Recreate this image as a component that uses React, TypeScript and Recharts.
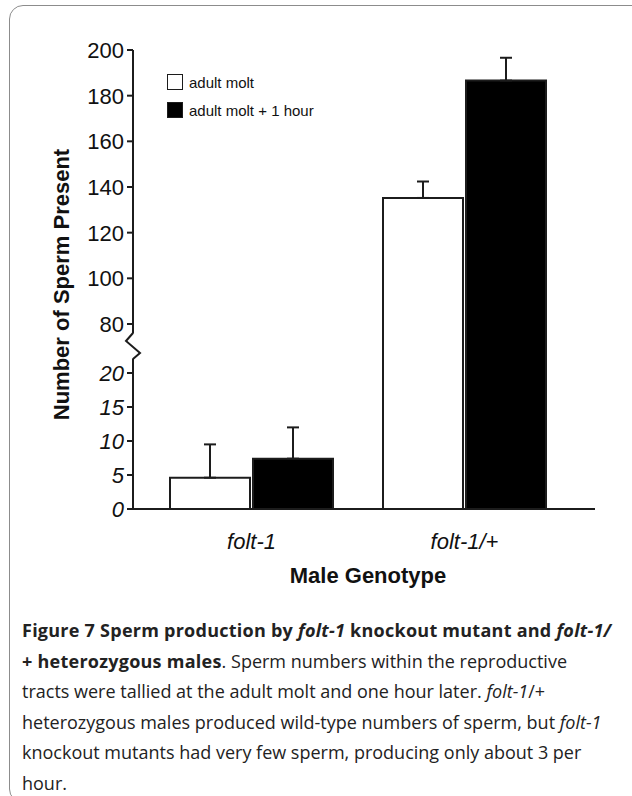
import { Bar, BarChart, ErrorBar, Legend, XAxis, YAxis } from "recharts";

const genotypes = ["folt-1", "folt-1/+"];
const moltMean = [4.6, 135.2];
const moltErr = [4.9, 7.2];
const hourMean = [7.4, 186.6];
const hourErr = [4.6, 10.0];
const lowTicks = [0, 5, 10, 15, 20];
const highTicks = [80, 100, 120, 140, 160, 180, 200];

// broken y axis: 0-20 stretched at the bottom, 80-200 squeezed above a gap
const LOW_K = 6.8;
const HIGH_START = 185;
const HIGH_K = 2.283;
const toAxis = (v: number) => (v <= 20 ? v * LOW_K : HIGH_START + (v - 80) * HIGH_K);
const BREAK_T = 163;
const TOP_T = toAxis(200);

const AXIS_X = 133;
const INK = "#1c1c1c";
const FONT = "'Liberation Sans', Arial, sans-serif";

const data = genotypes.map((g, i) => ({
  genotype: g,
  molt: toAxis(moltMean[i]),
  moltErr: [0, toAxis(moltMean[i] + moltErr[i]) - toAxis(moltMean[i])],
  hour: toAxis(hourMean[i]),
  hourErr: [0, toAxis(hourMean[i] + hourErr[i]) - toAxis(hourMean[i])],
}));

const yTicks = [...lowTicks.map(toAxis), BREAK_T, ...highTicks.map(toAxis)];

const labelFor = (t: number) => {
  const lo = lowTicks.find((v) => Math.abs(toAxis(v) - t) < 0.01);
  if (lo !== undefined) return { text: String(lo), italic: true };
  const hi = highTicks.find((v) => Math.abs(toAxis(v) - t) < 0.01);
  return { text: hi !== undefined ? String(hi) : "", italic: false };
};

const YTick = (props: any) => {
  const { x, y, payload } = props;
  if (payload.value === BREAK_T) {
    return (
      <g>
        <rect x={AXIS_X - 10} y={y - 12.5} width={12} height={25} fill="#fff" />
        <polyline
          points={`${AXIS_X},${y - 13} ${AXIS_X - 7},${y - 5} ${AXIS_X + 7},${y + 7} ${AXIS_X},${y + 13}`}
          fill="none"
          stroke={INK}
          strokeWidth={2}
        />
      </g>
    );
  }
  const lab = labelFor(payload.value);
  return (
    <text
      x={x}
      y={y}
      dy="0.36em"
      textAnchor="end"
      fontFamily={FONT}
      fontSize={22}
      fontStyle={lab.italic ? "italic" : "normal"}
      fill="#111"
    >
      {lab.text}
    </text>
  );
};

const XTick = (props: any) => {
  const { x, y, payload } = props;
  return (
    <text x={x} y={y + 40} textAnchor="middle" fontFamily={FONT} fontSize={22} fontStyle="italic" fill="#111">
      {payload.value}
    </text>
  );
};

const LegendBox = ({ payload }: any) => (
  <div style={{ fontFamily: FONT, fontSize: 15, color: "#111" }}>
    {(payload || []).map((p: any) => (
      <div key={p.value} style={{ display: "flex", alignItems: "center", height: 28 }}>
        <span
          style={{
            display: "inline-block",
            width: 14,
            height: 14,
            border: `1.5px solid ${INK}`,
            background: p.color,
            marginRight: 6,
          }}
        />
        <span>{p.value}</span>
      </div>
    ))}
  </div>
);

const App = () => {
  return (
    <div style={{ position: "absolute", left: 0, top: 0, width: 632, height: 796, overflow: "hidden", background: "#fff" }}>
      <div
        style={{
          position: "absolute",
          left: 9,
          top: 5,
          width: 640,
          height: 796,
          border: "1.5px solid #8c8c8c",
          borderRadius: 14,
        }}
      />
      <div style={{ position: "absolute", left: 0, top: 0 }}>
        <BarChart
          width={632}
          height={600}
          data={data}
          margin={{ top: 50, right: 37, bottom: 31, left: 0 }}
          barSize={80}
          barGap={3}
        >
          <XAxis
            dataKey="genotype"
            height={60}
            padding={{ left: 12, right: 24 }}
            tickLine={false}
            tickSize={0}
            tickMargin={0}
            axisLine={{ stroke: INK, strokeWidth: 2 }}
            tick={<XTick />}
            label={(p: any) => (
              <text
                x={p.viewBox.x + p.viewBox.width / 2 + 4}
                y={p.viewBox.y + 74}
                textAnchor="middle"
                fontFamily={FONT}
                fontSize={22}
                fontWeight="bold"
                fill="#111"
              >
                Male Genotype
              </text>
            )}
          />
          <XAxis
            xAxisId="top"
            orientation="top"
            dataKey="genotype"
            height={0}
            tick={false}
            tickLine={false}
            axisLine={{ stroke: INK, strokeWidth: 2 }}
          />
          <YAxis
            type="number"
            width={AXIS_X}
            domain={[0, TOP_T]}
            ticks={yTicks}
            interval={0}
            allowDataOverflow
            tickSize={6}
            tickMargin={3}
            tickLine={{ stroke: INK, strokeWidth: 2 }}
            axisLine={{ stroke: INK, strokeWidth: 2 }}
            tick={<YTick />}
            label={(p: any) => {
              const cx = p.viewBox.x + 61;
              const cy = p.viewBox.y + p.viewBox.height / 2 + 5;
              return (
                <text
                  x={cx}
                  y={cy}
                  dy="0.36em"
                  textAnchor="middle"
                  transform={`rotate(-90, ${cx}, ${cy})`}
                  fontFamily={FONT}
                  fontSize={22}
                  fontWeight="bold"
                  fill="#111"
                >
                  Number of Sperm Present
                </text>
              );
            }}
          />
          <YAxis
            yAxisId="right"
            orientation="right"
            width={0}
            domain={[0, 1]}
            tick={false}
            tickLine={false}
            axisLine={{ stroke: INK, strokeWidth: 2 }}
          />
          <Legend
            layout="vertical"
            align="center"
            verticalAlign="middle"
            wrapperStyle={{ top: 68, left: 167, width: "auto" }}
            content={<LegendBox />}
          />
          <Bar dataKey="molt" name="adult molt" fill="#ffffff" stroke={INK} strokeWidth={2} isAnimationActive={false}>
            <ErrorBar dataKey="moltErr" width={6} stroke={INK} strokeWidth={2} direction="y" />
          </Bar>
          <Bar dataKey="hour" name="adult molt + 1 hour" fill="#000000" stroke={INK} strokeWidth={2} isAnimationActive={false}>
            <ErrorBar dataKey="hourErr" width={6} stroke={INK} strokeWidth={2} direction="y" />
          </Bar>
        </BarChart>
      </div>
      <div
        style={{
          position: "absolute",
          left: 22,
          top: 615,
          fontFamily: "'Open Sans', 'Noto Sans', sans-serif",
          fontSize: 18,
          lineHeight: "30.6px",
          color: "#222",
          whiteSpace: "nowrap",
        }}
      >
        <b style={{ letterSpacing: 0.25 }}>
          Figure 7 Sperm production by <i>folt-1</i> knockout mutant and <i>folt-1/</i>
        </b>
        <br />
        <b style={{ letterSpacing: 0.25 }}>+ heterozygous males</b>. Sperm numbers within the reproductive
        <br />
        tracts were tallied at the adult molt and one hour later. <i>folt-1</i>/+
        <br />
        heterozygous males produced wild-type numbers of sperm, but <i>folt-1</i>
        <br />
        knockout mutants had very few sperm, producing only about 3 per
        <br />
        hour.
      </div>
    </div>
  );
};

export default App;
